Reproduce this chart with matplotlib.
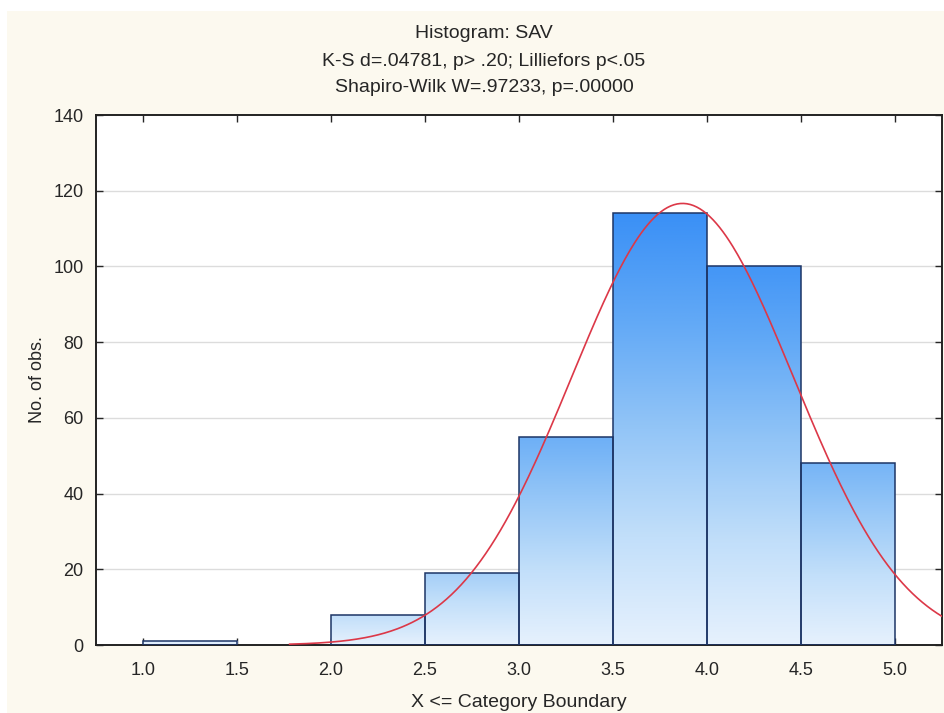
import numpy as np
import matplotlib
matplotlib.use("Agg")
import matplotlib.pyplot as plt
from matplotlib.colors import LinearSegmentedColormap
from matplotlib.patches import Rectangle

plt.rcParams['font.family'] = ['Liberation Sans', 'DejaVu Sans']

# Data
bin_edges = [1.0, 1.5, 2.0, 2.5, 3.0, 3.5, 4.0, 4.5, 5.0]
counts = [1, 0, 8, 19, 55, 114, 100, 48]
fit_mean = 3.87
fit_sd = 0.59
n_obs = 345
curve_start = 1.78
x_ticks = [1.0, 1.5, 2.0, 2.5, 3.0, 3.5, 4.0, 4.5, 5.0]
y_ticks = [0, 20, 40, 60, 80, 100, 120, 140]
title_lines = ["Histogram: SAV",
               "K-S d=.04781, p> .20; Lilliefors p<.05",
               "Shapiro-Wilk W=.97233, p=.00000"]

W, H = 944, 713
bg = "#fcf9ef"
txt = "#262626"
fig = plt.figure(figsize=(W / 100, H / 100), dpi=100, facecolor="white")
fig.patches.append(Rectangle((7 / W, 0), 1, 1 - 11 / H, transform=fig.transFigure,
                             facecolor=bg, edgecolor='none', zorder=-10))

ax = fig.add_axes([96 / W, 1 - 645 / H, (942 - 96) / W, (645 - 115) / H])
ax.set_facecolor("white")

xmin, xmax = 0.75, 5.25
ax.set_xlim(xmin, xmax)
ax.set_ylim(0, 140)

for y in y_ticks[1:-1]:
    ax.axhline(y, color="#dcdcdc", lw=1.0, zorder=0)

cmap = LinearSegmentedColormap.from_list(
    "g", ["#e6f1fd", "#c2dffa", "#93c5f7", "#62a9f6", "#3a90f6"])
top = max(counts)
for i, c in enumerate(counts):
    if c <= 0:
        continue
    l, r = bin_edges[i], bin_edges[i + 1]
    t_top = np.sqrt(c / top)
    grad = np.linspace(0, t_top, 256).reshape(-1, 1)
    rect = ax.bar(l, c, width=r - l, align='edge', facecolor='none',
                  edgecolor="#1d3566", lw=1.1, zorder=3)[0]
    im = ax.imshow(grad, cmap=cmap, vmin=0, vmax=1, origin='lower', aspect='auto',
                   extent=[l, r, 0, c], zorder=2, interpolation='bilinear')
    im.set_clip_path(rect)

bw = bin_edges[1] - bin_edges[0]
xs = np.linspace(curve_start, xmax, 400)
ys = n_obs * bw / (fit_sd * np.sqrt(2 * np.pi)) * np.exp(-0.5 * ((xs - fit_mean) / fit_sd) ** 2)
ax.plot(xs, ys, color="#dc3848", lw=1.2, zorder=4)

ax.set_xticks(x_ticks)
ax.set_xticklabels([f"{v:.1f}" for v in x_ticks])
ax.set_yticks(y_ticks)
ax.tick_params(axis='both', direction='in', top=True, right=True, length=5,
               width=1.0, labelsize=13, colors=txt)
ax.tick_params(axis='y', pad=9)
ax.tick_params(axis='x', pad=12)
for s in ax.spines.values():
    s.set_color("#222222")
    s.set_linewidth(1.4)

ax.set_xlabel("X <= Category Boundary", fontsize=14, color=txt, labelpad=11)
ax.set_ylabel("No. of obs.", fontsize=13, color=txt, labelpad=5)

for k, (t, yc) in enumerate(zip(title_lines, [34, 62, 88])):
    fig.text(484 / W, 1 - yc / H, t, ha='center', va='center',
             fontsize=14, color=txt)

fig.savefig("out.png", dpi=100, facecolor="white")
